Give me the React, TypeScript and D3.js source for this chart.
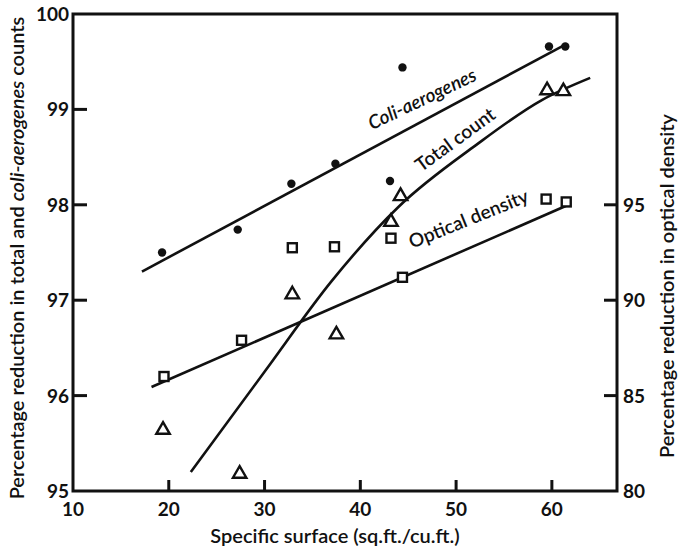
import React from "react";
import * as d3 from "d3";

// Data
const coliX = [19.3, 27.2, 32.8, 37.4, 43.1, 44.4, 59.7, 61.4];
const coliY = [97.5, 97.74, 98.22, 98.43, 98.25, 99.44, 99.66, 99.66];
const totalX = [19.4, 27.4, 32.9, 37.5, 43.2, 44.2, 59.5, 61.2];
const totalY = [95.64, 95.18, 97.06, 96.64, 97.82, 98.09, 99.2, 99.19];
const odX = [19.5, 27.6, 32.9, 37.3, 43.2, 44.4, 59.4, 61.5];
const odY = [86.0, 87.9, 92.75, 92.8, 93.25, 91.2, 95.3, 95.15];

const coliFitX = [17.2, 61.4];
const coliFitY = [97.3, 99.68];
const totalFitX = [22.3, 30, 37, 44, 52, 59, 64];
const totalFitY = [95.2, 96.25, 97.2, 97.98, 98.62, 99.1, 99.33];
const odFitX = [18.2, 61.5];
const odFitY = [85.45, 94.95];

const xTicks = [10, 20, 30, 40, 50, 60];
const yLeftTicks = [95, 96, 97, 98, 99, 100];
const yRightTicks = [80, 85, 90, 95];

const W = 678;
const H = 551;
const FONT = "Lato, 'Open Sans', sans-serif";
const INK = "#111";

export default function App() {
  const x = d3.scaleLinear().domain([10, 66.8]).range([73, 617]);
  const yL = d3.scaleLinear().domain([95, 100]).range([491, 14]);
  const yR = d3.scaleLinear().domain([80, 105]).range([491, 14]);

  const straight = d3.line<[number, number]>().x((d) => d[0]).y((d) => d[1]);
  const smooth = d3
    .line<[number, number]>()
    .x((d) => d[0])
    .y((d) => d[1])
    .curve(d3.curveMonotoneX);

  const coliFit = straight(coliFitX.map((v, i) => [x(v), yL(coliFitY[i])]));
  const totalFit = smooth(totalFitX.map((v, i) => [x(v), yL(totalFitY[i])]));
  const odFit = straight(odFitX.map((v, i) => [x(v), yR(odFitY[i])]));

  const tri = d3.symbol(d3.symbolTriangle, 78)();
  const sq = 9;

  const [x0, x1] = x.range();
  const [yb, yt] = yL.range();

  const tickFont = { fontFamily: FONT, fontSize: 19, fontWeight: 700, fill: INK } as const;
  const titleFont = { fontFamily: FONT, fontSize: 20, fontWeight: 600, fill: INK } as const;
  const lblFont = { fontFamily: FONT, fontSize: 19, fontWeight: 600, fill: INK } as const;

  return (
    <svg width={W} height={H} style={{ display: "block", position: "absolute", left: 0, top: 0 }}>
      <rect width={W} height={H} fill="#fff" />
      {/* frame */}
      <rect x={x0} y={yt} width={x1 - x0} height={yb - yt} fill="none" stroke={INK} strokeWidth={3} />
      {/* left ticks */}
      {yLeftTicks.map((t) => (
        <g key={"yl" + t}>
          {t !== 95 && t !== 100 && (
            <line x1={x0} x2={x0 + 14} y1={yL(t)} y2={yL(t)} stroke={INK} strokeWidth={3} />
          )}
          <text x={x0 - 4} y={yL(t) + 7} textAnchor="end" {...tickFont}>
            {t}
          </text>
        </g>
      ))}
      {/* right ticks */}
      {yRightTicks.map((t) => (
        <g key={"yr" + t}>
          {t !== 80 && (
            <line x1={x1 - 13} x2={x1} y1={yR(t)} y2={yR(t)} stroke={INK} strokeWidth={3} />
          )}
          <text x={x1 + 6} y={yR(t) + 7} textAnchor="start" {...tickFont}>
            {t}
          </text>
        </g>
      ))}
      {/* bottom ticks */}
      {xTicks.map((t) => (
        <g key={"x" + t}>
          {t !== 10 && <line x1={x(t)} x2={x(t)} y1={yb} y2={yb - 11} stroke={INK} strokeWidth={3} />}
          <text x={x(t)} y={yb + 25} textAnchor="middle" {...tickFont}>
            {t}
          </text>
        </g>
      ))}
      {/* axis titles */}
      <text x={335} y={543} textAnchor="middle" {...titleFont}>
        Specific surface (sq.ft./cu.ft.)
      </text>
      <text transform={`translate(24,258) rotate(-90)`} textAnchor="middle" {...titleFont}>
        Percentage reduction in total and <tspan fontStyle="italic">coli-aerogenes</tspan> counts
      </text>
      <text transform={`translate(674,286) rotate(-90)`} textAnchor="middle" {...titleFont}>
        Percentage reduction in optical density
      </text>

      {/* fit lines */}
      <path d={coliFit || ""} fill="none" stroke={INK} strokeWidth={2.6} />
      <path d={totalFit || ""} fill="none" stroke={INK} strokeWidth={2.6} />
      <path d={odFit || ""} fill="none" stroke={INK} strokeWidth={2.6} />

      {/* line labels */}
      <text transform={`translate(425,105) rotate(-25.5)`} textAnchor="middle" fontStyle="italic" {...lblFont}>
        Coli-aerogenes
      </text>
      <text transform={`translate(459,145) rotate(-36)`} textAnchor="middle" {...lblFont}>
        Total count
      </text>
      <text transform={`translate(471,225) rotate(-22)`} textAnchor="middle" {...lblFont}>
        Optical density
      </text>

      {/* markers */}
      {coliX.map((v, i) => (
        <circle key={"c" + i} cx={x(v)} cy={yL(coliY[i])} r={4.2} fill={INK} />
      ))}
      {totalX.map((v, i) => (
        <path
          key={"t" + i}
          d={tri || ""}
          transform={`translate(${x(v)},${yL(totalY[i])})`}
          fill="#fff"
          stroke={INK}
          strokeWidth={2.4}
        />
      ))}
      {odX.map((v, i) => (
        <rect
          key={"s" + i}
          x={x(v) - sq / 2}
          y={yR(odY[i]) - sq / 2}
          width={sq}
          height={sq}
          fill="#fff"
          stroke={INK}
          strokeWidth={2.4}
        />
      ))}
    </svg>
  );
}
